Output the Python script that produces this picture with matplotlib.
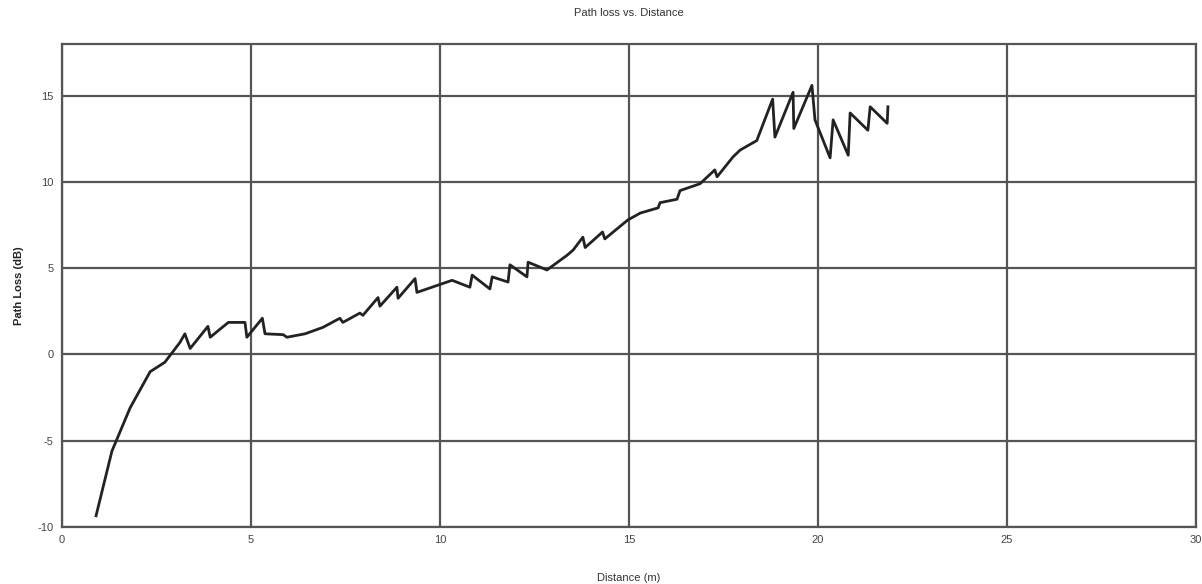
import matplotlib
matplotlib.use('Agg')
from matplotlib import pyplot as plt

# distance (m) and path loss (dB)
distance = [0.9, 1.32, 1.8, 2.33, 2.72, 3.12, 3.25, 3.39, 3.86, 3.92, 4.4, 4.84, 4.89,
            5.3, 5.37, 5.85, 5.95, 6.43, 6.9, 7.35, 7.43, 7.88, 7.96, 8.36, 8.41,
            8.86, 8.89, 9.34, 9.39, 9.92, 10.32, 10.79, 10.85, 11.32, 11.38, 11.8,
            11.85, 12.3, 12.33, 12.83, 13.36, 13.52, 13.78, 13.84, 14.3, 14.36,
            14.97, 15.3, 15.77, 15.82, 16.27, 16.35, 16.88, 17.27, 17.33, 17.75,
            17.94, 18.38, 18.8, 18.86, 19.34, 19.36, 19.84, 19.92, 20.32, 20.4,
            20.8, 20.85, 21.32, 21.38, 21.83, 21.85]
path_loss = [-9.35, -5.6, -3.1, -1.0, -0.45, 0.7, 1.2, 0.35, 1.63, 1.0, 1.86, 1.86, 1.0,
             2.1, 1.2, 1.15, 1.0, 1.2, 1.57, 2.1, 1.86, 2.4, 2.27, 3.3, 2.8,
             3.9, 3.26, 4.4, 3.6, 4.0, 4.3, 3.9, 4.6, 3.8, 4.5, 4.2,
             5.2, 4.5, 5.35, 4.9, 5.75, 6.05, 6.8, 6.2, 7.1, 6.7,
             7.8, 8.2, 8.5, 8.8, 9.0, 9.5, 9.9, 10.7, 10.3, 11.45,
             11.85, 12.4, 14.8, 12.6, 15.2, 13.1, 15.6, 13.6, 11.4, 13.6,
             11.55, 14.0, 13.0, 14.36, 13.4, 14.36]

x_ticks = [0, 5, 10, 15, 20, 25, 30]
y_ticks = [-10, -5, 0, 5, 10, 15]

plt.rcParams['font.family'] = ['Liberation Sans', 'DejaVu Sans']
plt.rcParams['axes.unicode_minus'] = False

fig = plt.figure(figsize=(12.02, 5.84), dpi=100)
ax = fig.add_axes([0.0516, 0.0976, 0.9434, 0.8271])

ax.plot(distance, path_loss, color='#222222', linewidth=2.0)

ax.set_xlim(0, 30)
ax.set_ylim(-10, 18)
ax.set_xticks(x_ticks)
ax.set_yticks(y_ticks)
ax.grid(True, color='#555555', linewidth=1.6)
ax.set_axisbelow(True)
ax.tick_params(length=0, labelsize=8, labelcolor='#444444', pad=6)
for s in ax.spines.values():
    s.set_color('#555555')
    s.set_linewidth(1.6)

ax.set_title('Path loss vs. Distance', fontsize=8, color='#333333', pad=20)
ax.set_xlabel('Distance (m)', fontsize=8, color='#333333', labelpad=20)
ax.set_ylabel('Path Loss (dB)', fontsize=8, color='#222222', fontweight='bold', labelpad=10)

fig.savefig('out.png', dpi=100)
